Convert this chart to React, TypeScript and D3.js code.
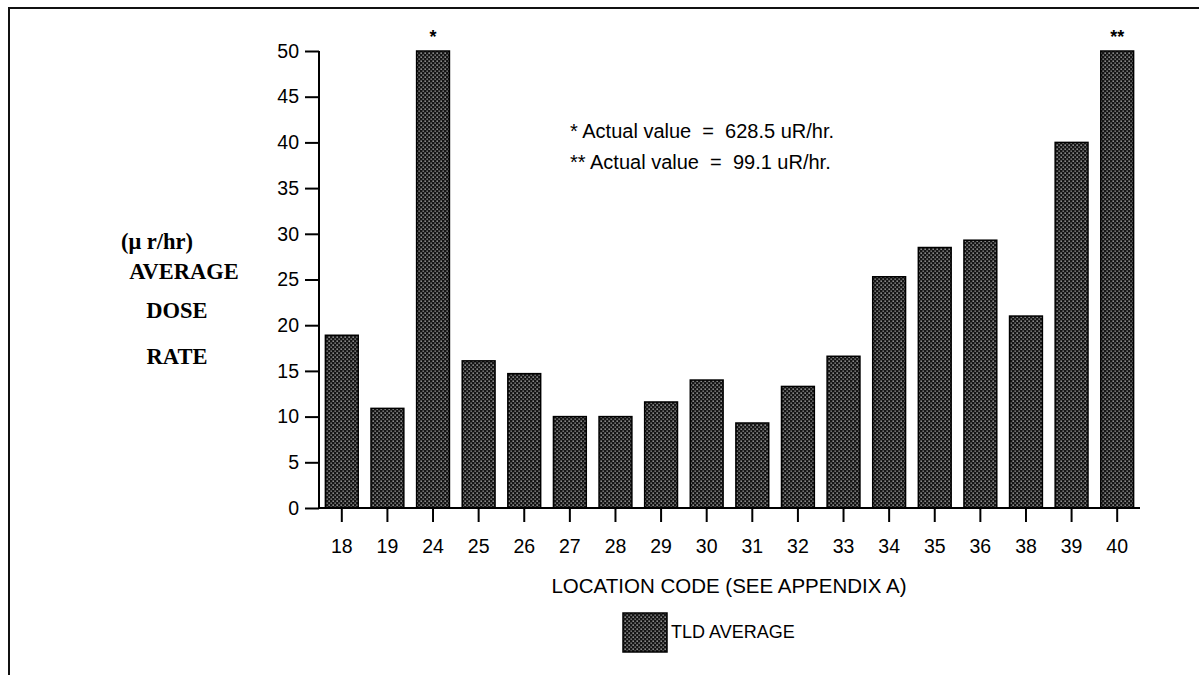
import React, { useEffect, useRef } from "react";
import * as d3 from "d3";

const categories = ["18","19","24","25","26","27","28","29","30","31","32","33","34","35","36","38","39","40"];
const tldAverage = [18.9,10.9,628.5,16.1,14.7,10.0,10.0,11.6,14.0,9.3,13.3,16.6,25.3,28.5,29.3,21.0,40.0,99.1];
const yTicks = [0,5,10,15,20,25,30,35,40,45,50];
const notes = ["* Actual value  =  628.5 uR/hr.", "** Actual value  =  99.1 uR/hr."];
const markers: Record<string,string> = { "24": "*", "40": "**" };
const yTitle = ["(\u03bc r/hr)", "AVERAGE", "DOSE", "RATE"];
const xTitle = "LOCATION CODE (SEE APPENDIX A)";
const legendLabel = "TLD AVERAGE";

const W = 1199, H = 675;
const M = { left: 319, right: 1140, top: 51, bottom: 508 };
const SANS = "'Liberation Sans', Arial, Helvetica, sans-serif";
const SERIF = "'Liberation Serif', 'Times New Roman', serif";
const FS = 19.5;

export default function App() {
  const ref = useRef<SVGSVGElement>(null);
  useEffect(() => {
    const svg = d3.select(ref.current);
    svg.selectAll("*").remove();
    const defs = svg.append("defs");
    const pat = defs.append("pattern").attr("id", "dots").attr("patternUnits", "userSpaceOnUse")
      .attr("width", 4).attr("height", 4);
    pat.append("rect").attr("width", 4).attr("height", 4).attr("fill", "#151515");
    pat.append("rect").attr("x", 0.5).attr("y", 0.5).attr("width", 1.3).attr("height", 1.3).attr("fill", "#c8c8c8");
    pat.append("rect").attr("x", 2.5).attr("y", 2.5).attr("width", 1.3).attr("height", 1.3).attr("fill", "#a0a0a0");

    // frame
    svg.append("path").attr("d", `M9,${H} L9,8 L${W},8`).attr("fill", "none").attr("stroke", "#111").attr("stroke-width", 2);

    const x = d3.scaleBand<string>().domain(categories).range([M.left, M.right]).paddingInner(0.28).paddingOuter(0.14);
    const y = d3.scaleLinear().domain([0, 50]).range([M.bottom, M.top]).clamp(true);

    const g = svg.append("g");
    g.selectAll("rect.bar").data(categories).enter().append("rect")
      .attr("class", "bar")
      .attr("x", (d) => x(d)!)
      .attr("width", x.bandwidth())
      .attr("y", (_d, i) => y(tldAverage[i]))
      .attr("height", (_d, i) => y(0) - y(tldAverage[i]))
      .attr("fill", "url(#dots)")
      .attr("stroke", "#000")
      .attr("stroke-width", 1.5);

    // markers
    g.selectAll("text.mk").data(categories.filter((c) => markers[c])).enter().append("text")
      .attr("x", (d) => x(d)! + x.bandwidth() / 2)
      .attr("y", (d) => y(tldAverage[categories.indexOf(d)]) - 8)
      .attr("text-anchor", "middle")
      .attr("font-family", SANS).attr("font-size", 18).attr("font-weight", "bold")
      .text((d) => markers[d]);

    // y axis
    const ya = svg.append("g").attr("transform", `translate(${M.left},0)`)
      .call(d3.axisLeft(y).tickValues(yTicks).tickSize(14).tickPadding(6).tickFormat(d3.format("d")));
    ya.select(".domain").attr("stroke", "#000").attr("stroke-width", 2).attr("d", `M0,${M.top}V${M.bottom}`);
    ya.selectAll(".tick line").attr("stroke", "#000").attr("stroke-width", 2);
    ya.selectAll(".tick text").attr("font-family", SANS).attr("font-size", FS).attr("fill", "#000");

    // x axis
    const xa = svg.append("g").attr("transform", `translate(0,${M.bottom})`)
      .call(d3.axisBottom(x).tickSize(14).tickPadding(17));
    xa.select(".domain").attr("stroke", "#000").attr("stroke-width", 2).attr("d", `M${M.left},0H${M.right}`);
    xa.selectAll(".tick line").attr("stroke", "#000").attr("stroke-width", 2);
    xa.selectAll(".tick text").attr("font-family", SANS).attr("font-size", FS).attr("fill", "#000");

    // notes
    svg.selectAll("text.note").data(notes).enter().append("text")
      .attr("x", 570).attr("y", (_d, i) => 138 + i * 31)
      .attr("font-family", SANS).attr("font-size", 20).attr("fill", "#000")
      .attr("xml:space", "preserve").style("white-space", "pre")
      .text((d) => d);

    // y title
    const yt = [ { x: 157, y: 249 }, { x: 184, y: 279 }, { x: 177, y: 318 }, { x: 177, y: 364 } ];
    svg.selectAll("text.yt").data(yTitle).enter().append("text")
      .attr("x", (_d, i) => yt[i].x).attr("y", (_d, i) => yt[i].y)
      .attr("text-anchor", "middle")
      .attr("font-family", SERIF).attr("font-size", 22.5).attr("font-weight", "bold").attr("fill", "#000")
      .text((d) => d);

    // x title
    svg.append("text").attr("x", 729).attr("y", 593).attr("text-anchor", "middle")
      .attr("font-family", SANS).attr("font-size", 20.5).attr("fill", "#000").text(xTitle);

    // legend
    svg.append("rect").attr("x", 623).attr("y", 613).attr("width", 44).attr("height", 39)
      .attr("fill", "url(#dots)").attr("stroke", "#000").attr("stroke-width", 1.5);
    svg.append("text").attr("x", 671).attr("y", 638)
      .attr("font-family", SANS).attr("font-size", 18).attr("fill", "#000").text(legendLabel);
  }, []);
  return (
    <svg ref={ref} width={W} height={H} style={{ position: "absolute", left: 0, top: 0, background: "#fff" }} />
  );
}
